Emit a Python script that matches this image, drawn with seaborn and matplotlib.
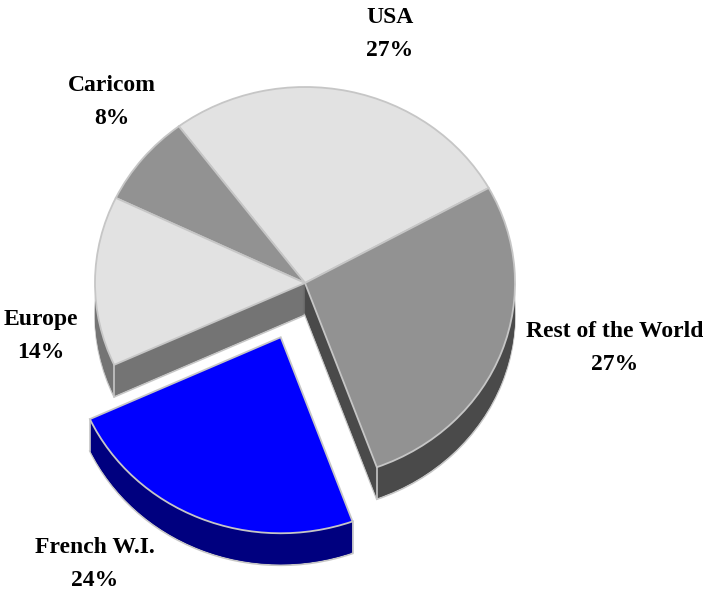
import numpy as np
import matplotlib
matplotlib.use("Agg")
import matplotlib.pyplot as plt
import seaborn as sns

categories = ["USA", "Caricom", "Europe", "French W.I.", "Rest of the World"]
shares = [27.2, 7.6, 14.0, 23.7, 27.5]
share_labels = ["27%", "8%", "14%", "24%", "27%"]
explode = [0, 0, 0, 0.3, 0]
top_colors = ["#e2e2e2", "#929292", "#e2e2e2", "#0000ff", "#929292"]
side_colors = ["#717171", "#4a4a4a", "#747474", "#00007f", "#4a4a4a"]
label_pos = [(390, 34), (112, 102), (41, 336), (95, 564), (615, 348)]

W, H = 703, 592
CX, CY, RX, RY, DEPTH = 305, 283, 210, 196, 32
EDGE = "#c6c6c6"

sns.set_theme(style="white")
plt.rcParams["font.family"] = ["Liberation Serif", "DejaVu Serif"]

fig = plt.figure(figsize=(W / 100, H / 100), dpi=100)
ax = fig.add_axes([0, 0, 1, 1])

pie_args = dict(startangle=29, counterclock=True, explode=explode, normalize=True)

# Extruded body: the same pie stacked downward, one pixel per layer
for d in range(DEPTH, 0, -1):
    lw = 1.3 if d == DEPTH else 0
    ec = EDGE if d == DEPTH else "none"
    ax.pie(shares, colors=side_colors, center=(0, -d / RY), **pie_args,
           wedgeprops=dict(linewidth=lw, edgecolor=ec))

# Top face, then the vertical corner edges of the visible side faces
wedges, _ = ax.pie(shares, colors=top_colors, center=(0, 0), **pie_args,
                   wedgeprops=dict(linewidth=1.3, edgecolor=EDGE, zorder=3))
for w, theta in [(wedges[2], wedges[2].theta2), (wedges[3], wedges[3].theta1),
                 (wedges[3], wedges[3].theta2), (wedges[4], wedges[4].theta1)]:
    x = w.center[0] + np.cos(np.radians(theta))
    y = w.center[1] + np.sin(np.radians(theta))
    ax.plot([x, x], [y, y - DEPTH / RY], color=EDGE, lw=1.2, zorder=2.5)

ax.set_aspect("auto")
ax.set_xlim(-CX / RX, (W - CX) / RX)
ax.set_ylim(-(H - CY) / RY, CY / RY)
ax.axis("off")

for name, pct, (px, py) in zip(categories, share_labels, label_pos):
    ax.text(px / W, 1 - py / H, f"{name}\n{pct}", transform=ax.transAxes, ha="center", va="center",
            fontsize=17, fontweight="bold", color="black", linespacing=1.74)

fig.savefig("out.png", dpi=100)
